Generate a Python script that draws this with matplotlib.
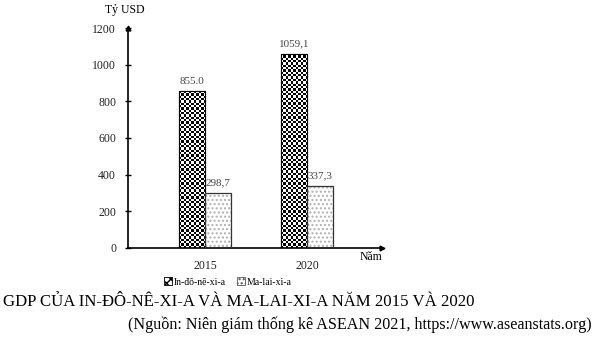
import numpy as np
import matplotlib
matplotlib.use("Agg")
import matplotlib.pyplot as plt
from matplotlib.patches import Patch

plt.rcParams["font.family"] = ["Liberation Serif", "DejaVu Serif"]

years = ["2015", "2020"]
indonesia = [855.0, 1059.1]
malaysia = [298.7, 337.3]
indonesia_labels = ["855.0", "1059,1"]
malaysia_labels = ["298,7", "337,3"]
y_ticks = [0, 200, 400, 600, 800, 1000, 1200]

fig = plt.figure(figsize=(5.98, 3.42), dpi=100)
ax = fig.add_axes([0.214, 0.275, 0.425, 0.643])

x = np.arange(len(years))
width = 0.255

# Indonesia: checkerboard texture clipped to each bar
ind_bars = ax.bar(x - width / 2, indonesia, width, facecolor="white",
                  edgecolor="black", linewidth=0.8, zorder=2)
for bar in ind_bars:
    nx, ny = 11, int(round(bar.get_height() / 1200 * 220 / 2.35))
    board = (np.add.outer(np.arange(ny), np.arange(nx)) % 2).astype(float)
    img = ax.imshow(board, cmap="gray", interpolation="nearest", aspect="auto",
                    extent=(bar.get_x(), bar.get_x() + bar.get_width(), 0, bar.get_height()),
                    zorder=2.5, vmin=0, vmax=1)
    img.set_clip_path(bar)
    ax.bar(bar.get_x() + bar.get_width() / 2, bar.get_height(), bar.get_width(),
           fill=False, edgecolor="black", linewidth=0.8, zorder=3)

# Malaysia: light dotted fill
ax.bar(x + width / 2, malaysia, width, facecolor="white", edgecolor="#b0b0b0",
       hatch="....", linewidth=0, zorder=2)
ax.bar(x + width / 2, malaysia, width, fill=False, edgecolor="#333333",
       linewidth=0.9, zorder=3)

ax.set_xlim(-0.755, 1.735)
ax.set_ylim(0, 1200)

for xi, v, lab in zip(x, indonesia, indonesia_labels):
    ax.text(xi - width / 2, v + 55, lab, ha="center", va="center",
            fontsize=8, color="#444444")
for xi, v, lab in zip(x, malaysia, malaysia_labels):
    ax.text(xi + width / 2, v + 55, lab, ha="center", va="center",
            fontsize=8, color="#444444")

for side in ("top", "right"):
    ax.spines[side].set_visible(False)
ax.spines["left"].set_linewidth(1.2)
ax.spines["bottom"].set_linewidth(1.2)
ax.plot(0, 1, "^k", markersize=3.5, transform=ax.transAxes, clip_on=False)
ax.plot(1, 0, ">k", markersize=3.5, transform=ax.transAxes, clip_on=False)

ax.set_yticks(y_ticks)
ax.set_yticklabels([str(t) for t in y_ticks])
ax.tick_params(axis="y", direction="inout", length=5, width=1, labelsize=8.5,
               pad=6, colors="black", labelcolor="#222222")
ax.set_xticks(x)
ax.set_xticklabels(years)
ax.tick_params(axis="x", length=0, labelsize=8.5, pad=9, labelcolor="#222222")

fig.text(105 / 598, 1 - 10 / 342, "Tỷ USD", fontsize=8.5, va="center", ha="left")
fig.text(360 / 598, 1 - 257 / 342, "Năm", fontsize=8.5, va="center", ha="left")

handles = [Patch(facecolor="white", edgecolor="black", hatch="xxxx", linewidth=0.6),
           Patch(facecolor="white", edgecolor="#555555", hatch="....", linewidth=0.6)]
fig.legend(handles, ["In-đô-nê-xi-a", "Ma-lai-xi-a"], loc="center",
           bbox_to_anchor=(228 / 598, 1 - 282 / 342), ncol=2, frameon=False,
           fontsize=7, handlelength=0.8, handleheight=0.8, handletextpad=0.2,
           columnspacing=1.2)

fig.text(3 / 598, 1 - 302 / 342, "GDP CỦA IN-ĐÔ-NÊ-XI-A VÀ MA-LAI-XI-A NĂM 2015 VÀ 2020",
         fontsize=12.05, va="center", ha="left")
fig.text(592 / 598, 1 - 325 / 342,
         "(Nguồn: Niên giám thống kê ASEAN 2021, https://www.aseanstats.org)",
         fontsize=11.6, va="center", ha="right")

fig.savefig("out.png", dpi=100)
